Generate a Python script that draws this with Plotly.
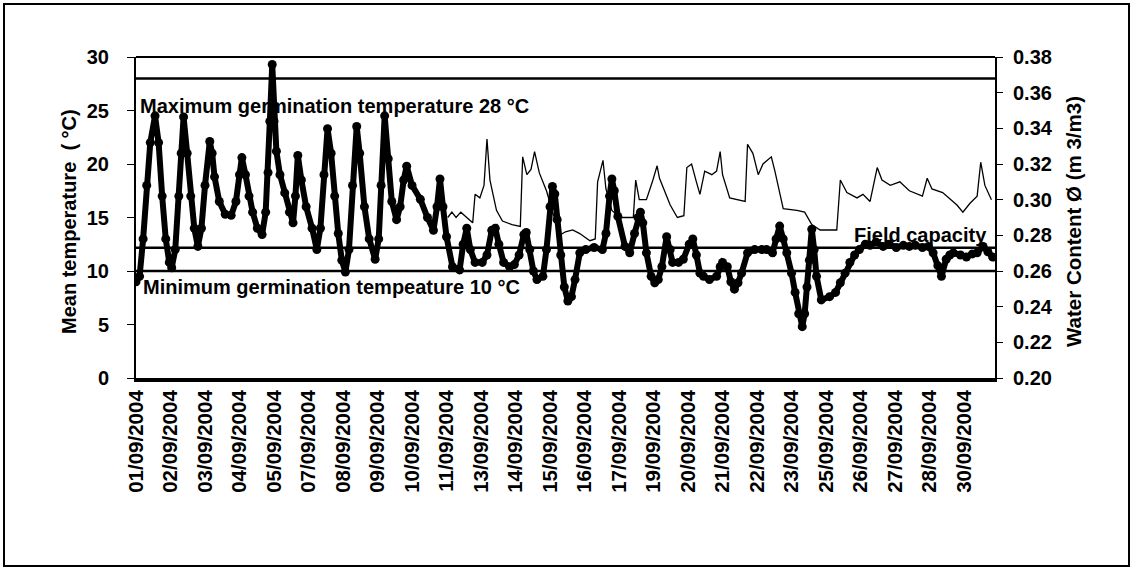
import plotly.graph_objects as go

# ---------------- data ----------------
# x axis: hourly positions (0 = 01/09/2004 00:00), tick label every 29 points
tick_hours = [0, 29, 58, 87, 116, 145, 174, 203, 232, 261, 290, 319, 348, 377,
              406, 435, 464, 493, 522, 551, 580, 609, 638, 667, 696]
tick_labels = ["01/09/2004", "02/09/2004", "03/09/2004", "04/09/2004", "05/09/2004",
               "07/09/2004", "08/09/2004", "09/09/2004", "10/09/2004", "11/09/2004",
               "13/09/2004", "14/09/2004", "15/09/2004", "16/09/2004", "17/09/2004",
               "19/09/2004", "20/09/2004", "21/09/2004", "22/09/2004", "23/09/2004",
               "25/09/2004", "26/09/2004", "27/09/2004", "28/09/2004", "30/09/2004"]

# Mean temperature (thick line with markers), left axis
temp_hours = [0, 3, 6, 9, 12, 16, 19, 22, 25, 28, 30, 33, 36, 38, 40, 43, 46, 49, 52, 55,
              58, 62, 64, 66, 70, 75, 80, 84, 87, 89, 92, 95, 98, 102, 106, 109, 111, 112.5,
              114.5, 116, 118, 121, 125, 129, 132, 134, 136, 139, 143, 148, 152, 155, 158,
              161, 164, 167, 170, 173, 176, 179, 182, 185.5, 188, 192, 196, 201, 204, 206,
              209, 212, 215, 219, 222, 225, 227.5, 232, 239, 245, 250, 253, 255.5, 258, 261,
              266, 272, 275, 278, 281, 285, 291, 295, 299, 302, 305, 309, 314, 318, 322, 326,
              328, 331, 334, 337, 342, 345, 348, 350, 352, 354, 357, 360, 363, 366, 369, 373,
              378, 385, 392, 395, 398, 400, 402, 405, 411, 415, 419, 422, 424, 426, 429, 433,
              436, 439, 442, 446, 449, 451, 456, 460, 465, 468, 471, 474, 477, 482, 488, 491,
              493, 497, 500, 503, 506, 509, 514, 520, 526, 530, 535, 538, 541, 544, 547, 551,
              554, 557, 560, 562, 564, 566, 568, 570, 572, 576, 583, 588, 592, 596, 600, 604,
              608, 613, 617, 622, 628, 633, 639, 645, 650, 655, 661, 666, 670, 674, 677, 681,
              684, 687, 693, 698, 703, 707, 712, 716, 720]
temp_values = [9.0, 9.5, 13, 18, 22, 24.5, 22, 17, 13, 10.8, 10.3, 12, 17, 21, 24.4, 21, 17, 14,
               12.3, 14, 18, 22.1, 21, 18.8, 16.5, 15.3, 15.2, 16.5, 19, 20.6, 19, 17, 15.5, 14,
               13.4, 15.5, 19.2, 24, 29.3, 24, 21.2, 19, 17.3, 15.5, 14.5, 17, 20.8, 18.5, 16,
               14, 12, 14, 19, 23.3, 21, 17, 13.5, 11, 9.9, 12, 18, 23.5, 21, 16, 13, 11.1, 13,
               18, 24.5, 20.5, 16.5, 14.8, 16, 18.5, 19.8, 18, 16.7, 15, 13.8, 16, 18.6, 16,
               13.2, 10.4, 10.1, 12.5, 14, 12, 10.8, 10.8, 11.5, 13.8, 14, 12.5, 10.8, 10.4,
               10.6, 11.5, 13.4, 13.6, 12, 10, 9.2, 9.5, 12, 16, 17.9, 17.2, 14.8, 11.5, 8.5,
               7.2, 7.6, 9.2, 11.7, 12, 12.2, 12, 13.5, 17, 18.6, 17.5, 15.1, 12.3, 11.7, 13.5,
               15, 15.5, 14.5, 11.7, 9.5, 8.9, 9.2, 10.4, 13.2, 12, 10.8, 10.8, 11.1, 12.5, 13,
               11.5, 9.8, 9.5, 9.2, 9.5, 10.4, 10.8, 10.4, 9, 8.3, 8.9, 9.8, 11.7, 12, 12, 12,
               11.7, 13, 14.2, 13, 11.7, 9.8, 8, 6, 4.8, 6, 8.5, 11, 13.9, 12, 9.5, 7.3, 7.6, 8,
               8.9, 9.8, 10.8, 11.5, 12, 12.5, 12.4, 12.7, 12.3, 12.5, 12.2, 12.4, 12.3, 12.4,
               12.2, 12.3, 11.7, 10.5, 9.5, 11.1, 11.5, 11.7, 11.5, 11.3, 11.6, 11.7, 12.3,
               11.8, 11.3]

# Water content (thin line), right axis
wc_hours = [262, 265.5, 269, 273, 278, 283, 285, 289, 292.5, 295, 297.5, 303, 308, 316, 323,
            325, 328.5, 332, 335, 339, 345, 350, 356, 361, 367, 373, 381.5, 386, 388, 392.5,
            395, 400, 407, 418, 420, 423, 429, 434, 438, 440, 449, 455, 460.5, 463, 467, 471,
            474, 478, 484, 488, 491, 493, 499, 512, 514, 518.5, 523, 527, 534, 537, 544,
            555.5, 562, 568, 575, 589, 592, 597.5, 606, 611, 617, 623, 627, 634, 642, 650,
            661, 665, 669, 678, 690, 695, 701, 707, 710, 713.5, 719]
wc_values = [0.290, 0.293, 0.290, 0.293, 0.290, 0.287, 0.303, 0.301, 0.308, 0.334, 0.311,
             0.294, 0.288, 0.286, 0.285, 0.324, 0.314, 0.317, 0.327, 0.315, 0.305, 0.294,
             0.280, 0.282, 0.283, 0.281, 0.277, 0.278, 0.310, 0.322, 0.306, 0.294, 0.290,
             0.290, 0.311, 0.300, 0.300, 0.310, 0.319, 0.312, 0.297, 0.290, 0.291, 0.318,
             0.320, 0.310, 0.303, 0.316, 0.314, 0.316, 0.327, 0.314, 0.301, 0.299, 0.331,
             0.326, 0.314, 0.320, 0.324, 0.316, 0.295, 0.294, 0.293, 0.286, 0.283, 0.283,
             0.311, 0.304, 0.301, 0.303, 0.299, 0.318, 0.311, 0.308, 0.310, 0.305, 0.302,
             0.312, 0.306, 0.304, 0.297, 0.293, 0.298, 0.302, 0.321, 0.308, 0.300]

MAX_GERM_TEMP = 28
MIN_GERM_TEMP = 10
FIELD_CAPACITY = 0.273

X_END = 722
FONT = "Liberation Sans, Arial, sans-serif"

fig = go.Figure()

fig.add_trace(go.Scatter(
    x=temp_hours, y=temp_values, mode="lines+markers",
    line=dict(color="black", width=6),
    marker=dict(color="black", size=9, symbol="circle"),
    showlegend=False, yaxis="y"))

fig.add_trace(go.Scatter(
    x=wc_hours, y=wc_values, mode="lines",
    line=dict(color="black", width=1.3),
    showlegend=False, yaxis="y2"))

# reference lines
fig.add_shape(type="line", xref="x", yref="y", x0=0, x1=X_END,
              y0=MAX_GERM_TEMP, y1=MAX_GERM_TEMP, line=dict(color="black", width=2.5))
fig.add_shape(type="line", xref="x", yref="y", x0=0, x1=X_END,
              y0=MIN_GERM_TEMP, y1=MIN_GERM_TEMP, line=dict(color="black", width=2.5))
fig.add_shape(type="line", xref="x", yref="y2", x0=0, x1=X_END,
              y0=FIELD_CAPACITY, y1=FIELD_CAPACITY, line=dict(color="black", width=2.5))

# plot frame top line
fig.add_shape(type="line", xref="paper", yref="paper", x0=0, x1=1, y0=1, y1=1,
              line=dict(color="black", width=2))
# outer chart border
fig.add_shape(type="rect", xref="paper", yref="paper",
              x0=(4 - 136) / 859, x1=(1129 - 136) / 859,
              y0=(378 - 566) / 321, y1=(378 - 4) / 321,
              line=dict(color="black", width=2))

txt = dict(family=FONT, size=20, color="black", weight="bold")
fig.add_annotation(x=2, y=25.4, xref="x", yref="y", xanchor="left", yanchor="middle",
                   text="Maximum germination temperature 28 °C", showarrow=False, font=txt)
fig.add_annotation(x=4, y=8.5, xref="x", yref="y", xanchor="left", yanchor="middle",
                   text="Minimum germination tempeature 10 °C", showarrow=False, font=txt)
fig.add_annotation(x=X_END - 5, y=13.4, xref="x", yref="y", xanchor="right", yanchor="middle",
                   text="Field capacity", showarrow=False, font=txt)

# axis titles
fig.add_annotation(x=(69 - 136) / 859, y=(378 - 222) / 321, xref="paper", yref="paper",
                   text="Mean temperature  ( °C)", textangle=-90, showarrow=False,
                   xanchor="center", yanchor="middle", font=txt)
fig.add_annotation(x=(1074 - 136) / 859, y=(378 - 222) / 321, xref="paper", yref="paper",
                   text="Water Content Ø (m 3/m3)", textangle=-90, showarrow=False,
                   xanchor="center", yanchor="middle",
                   font=dict(family=FONT, size=20.5, color="black", weight="bold"))

tickf = dict(family=FONT, size=20, color="black", weight="bold")
datef = dict(family=FONT, size=20.5, color="black", weight="bold")
fig.update_layout(
    width=1133, height=571,
    margin=dict(l=136, r=138, t=57, b=193),
    paper_bgcolor="white", plot_bgcolor="white",
    font=dict(family=FONT, size=20, color="black"),
    xaxis=dict(range=[0, X_END], tickmode="array", tickvals=tick_hours, ticktext=tick_labels,
               tickangle=-90, showgrid=False, zeroline=False, showline=True,
               linecolor="black", linewidth=4, ticks="", tickfont=datef),
    yaxis=dict(range=[0, 30], tickvals=[0, 5, 10, 15, 20, 25, 30], showgrid=False,
               zeroline=False, showline=True, linecolor="black", linewidth=2,
               ticks="outside", ticklen=7, tickcolor="black", tickfont=tickf,
               ticklabelstandoff=14),
    yaxis2=dict(range=[0.20, 0.38], overlaying="y", side="right",
                tickvals=[0.20, 0.22, 0.24, 0.26, 0.28, 0.30, 0.32, 0.34, 0.36, 0.38],
                tickformat=".2f", showgrid=False, zeroline=False, showline=True,
                linecolor="black", linewidth=2, ticks="outside", ticklen=6,
                tickcolor="black", tickfont=tickf, ticklabelstandoff=6),
)

fig.write_html("out.html", config={"displayModeBar": False},
               post_script="document.body.style.margin='0';document.body.style.overflow='hidden';")
